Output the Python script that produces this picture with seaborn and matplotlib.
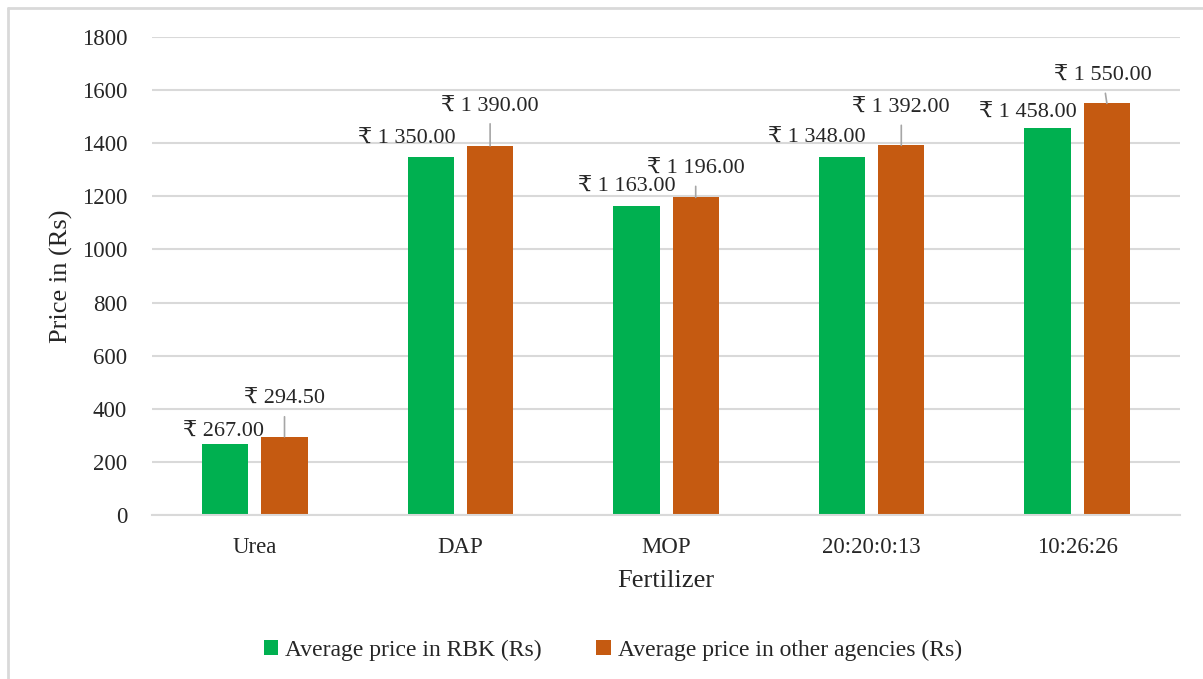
import matplotlib
matplotlib.use("Agg")
import matplotlib.pyplot as plt
import seaborn as sns
import pandas as pd
from matplotlib.lines import Line2D

categories = ["Urea", "DAP", "MOP", "20:20:0:13", "10:26:26"]
rbk = [267.00, 1350.00, 1163.00, 1348.00, 1458.00]
other = [294.50, 1390.00, 1196.00, 1392.00, 1550.00]
series = ["Average price in RBK (Rs)", "Average price in other agencies (Rs)"]
colors = ["#00b050", "#c55a11"]

# label placement (pixel offsets of label centre from bar top centre)
rbk_label_dx = [-2, -24, -10, -25, -20]
rbk_label_dy = [12, 17, 19, 19, 14]
other_label_dx = [0, 0, 0, 0, -4]
other_label_dy = [37, 39, 28, 37, 27]

sns.set_theme(style="white")
plt.rcParams["font.family"] = ["Liberation Serif", "DejaVu Serif", "DejaVu Sans"]

df = pd.DataFrame({
    "Fertilizer": categories * 2,
    "Price": rbk + other,
    "Series": [series[0]] * len(categories) + [series[1]] * len(categories),
})

fig = plt.figure(figsize=(12.03, 6.79), dpi=100)
ax = fig.add_axes([0.1264, 0.2415, 0.8545, 0.7040])

sns.barplot(data=df, x="Fertilizer", y="Price", hue="Series", hue_order=series,
            palette=colors, width=0.577, gap=0.22, ax=ax, saturation=1,
            edgecolor="none", legend=True)

ax.set_ylim(0, 1800)
ax.set_yticks(range(0, 1801, 200))
ax.yaxis.grid(True, color="#d9d9d9", linewidth=1.5)
ax.set_axisbelow(True)
for s in ["top", "right", "left"]:
    ax.spines[s].set_visible(False)
ax.spines["bottom"].set_color("#d9d9d9")
ax.spines["bottom"].set_linewidth(1.5)
ax.tick_params(axis="both", length=0, labelsize=16.5, colors="#262626")
ax.tick_params(axis="y", pad=18)
ax.tick_params(axis="x", pad=15.5)
ax.set_xlabel("Fertilizer", fontsize=19, color="#262626", labelpad=9)
ax.set_ylabel("Price in (Rs)", fontsize=19, color="#262626", labelpad=6)


def fmt(v):
    s = f"{v:,.2f}".replace(",", " ")
    return "\u20b9 " + s

# data labels
for ci, cont in enumerate(ax.containers):
    vals = [rbk, other][ci]
    dxs = [rbk_label_dx, other_label_dx][ci]
    dys = [rbk_label_dy, other_label_dy][ci]
    for bar, v, dx, dy in zip(cont, vals, dxs, dys):
        xc = bar.get_x() + bar.get_width() / 2
        top = bar.get_height()
        if ci == 0:
            ax.annotate(fmt(v), xy=(xc, top), xytext=(dx, dy), textcoords="offset pixels",
                        ha="center", va="center", fontsize=16, color="#262626")
        else:
            ax.annotate(fmt(v), xy=(xc, top), xytext=(dx, dy), textcoords="offset pixels",
                        ha="center", va="center", fontsize=16, color="#262626",
                        arrowprops=dict(arrowstyle="-", color="#a6a6a6", lw=1.2,
                                        shrinkA=3, shrinkB=0))

leg = ax.legend(loc="center", bbox_to_anchor=(613 / 1203, 1 - 650 / 679),
                bbox_transform=fig.transFigure, ncol=2, frameon=False,
                fontsize=17, handlelength=0.6, handleheight=0.6, handletextpad=0.3,
                columnspacing=2.3)
for t in leg.get_texts():
    t.set_color("#262626")

# chart border (top and left)
fig.add_artist(Line2D([8 / 1203, 1.0], [1 - 8 / 679, 1 - 8 / 679], transform=fig.transFigure,
                      color="#d9d9d9", lw=2))
fig.add_artist(Line2D([8 / 1203, 8 / 1203], [0, 1 - 8 / 679], transform=fig.transFigure,
                      color="#d9d9d9", lw=2))

fig.savefig("out.png", dpi=100, facecolor="white")
